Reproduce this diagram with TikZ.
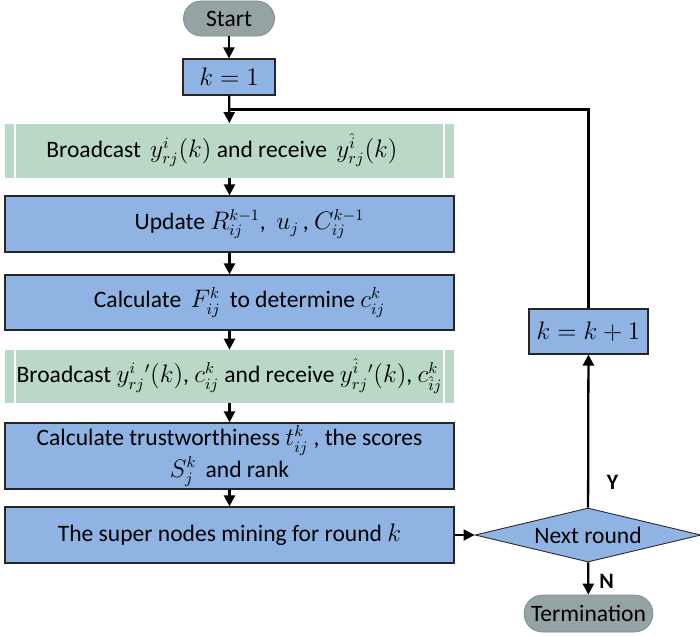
\documentclass[tikz,border=0pt]{standalone}
\usepackage[no-math]{fontspec}
\setmainfont{Carlito}
\usetikzlibrary{arrows.meta, positioning, shapes.geometric, calc}

\definecolor{boxblue}{HTML}{8FB4E3}
\definecolor{boxgreen}{HTML}{BAD8C6}
\definecolor{boxgray}{HTML}{95A3A4}

\tikzset{
  every node/.style={font=\fontsize{13.4}{16}\selectfont, inner sep=0pt},
  process/.style={draw=black!85, line width=0.7pt, fill=boxblue, minimum width=8.98cm, align=center},
  sendbox/.style={fill=boxgreen, minimum width=8.98cm, align=center,
    path picture={
      \draw[white, line width=0.8pt]
        ([xshift=0.2cm]path picture bounding box.north west) -- ([xshift=0.2cm]path picture bounding box.south west)
        ([xshift=-0.2cm]path picture bounding box.north east) -- ([xshift=-0.2cm]path picture bounding box.south east);
    }},
  terminal/.style={draw=boxgray!85!black, line width=0.4pt, fill=boxgray, rounded corners=0.35cm},
  arr/.style={-{Triangle[length=2.2mm,width=2.2mm]}, line width=1.3pt},
}

\begin{document}
\begin{tikzpicture}
  \useasboundingbox (0,0) rectangle (14,-12.7);

  % Left column
  \node[terminal, minimum width=1.82cm, minimum height=0.70cm] (start) at (4.58,-0.37) {Start};
  \node[process, minimum width=1.84cm, minimum height=0.72cm, font=\fontsize{15.5}{17}\selectfont] (k1) at (4.58,-1.54) {$k=1$};
  \node[sendbox, minimum height=1.08cm] (bc1) at (4.59,-3.01)
    {Broadcast\, $y^{i}_{rj}(k)$ and receive\, $y^{\hat{i}}_{rj}(k)$\hspace*{0.3cm}};
  \node[process, minimum height=1.12cm] (upd) at (4.59,-4.48)
    {\hspace*{0.8cm}Update $R^{k-1}_{ij}$,\ \ $u_j$\,, $C^{k-1}_{ij}$};
  \node[process, minimum height=1.10cm] (calcf) at (4.59,-6.05)
    {\hspace*{0.4cm}Calculate\, $F^{k}_{ij}$\, to determine $c^{k}_{ij}$};
  \node[sendbox, minimum height=1.06cm] (bc2) at (4.59,-7.53)
    {Broadcast $y^{i}_{rj}{}'(k)$, $c^{k}_{ij}$ and receive $y^{\hat{i}}_{rj}{}'(k)$, $c^{k}_{\hat{i}j}$};
  \node[process, minimum height=1.32cm] (trust) at (4.59,-9.12)
    {Calculate trustworthiness $t^{k}_{ij}$ , the scores\\ $S^{k}_{j}$\, and rank};
  \node[process, minimum height=1.12cm] (mine) at (4.59,-10.70)
    {The super nodes mining for round $k$};

  % Right column
  \node[process, minimum width=2.38cm, minimum height=0.90cm, font=\fontsize{15.5}{17}\selectfont] (inc) at (11.77,-6.63) {$k=k+1$};
  \node[diamond, draw=black!85, line width=0.5pt, fill=boxblue, aspect=4.2,
        minimum width=4.52cm, minimum height=1.08cm] (dec) at (11.76,-10.70) {Next round};
  \node[terminal, minimum width=2.58cm, minimum height=0.74cm, rounded corners=0.37cm] (term) at (11.77,-12.27) {Termination};

  % Arrows
  \foreach \a/\b in {start/k1, k1/bc1, bc1/upd, upd/calcf, calcf/bc2, bc2/trust, trust/mine}{
    \draw[arr] (\a) -- (\b);
  }
  \draw[arr] (mine) -- (dec);
  \draw[arr] (dec) -- (inc) node[pos=0.2, right=0.35cm, yshift=-0.1cm, font=\fontsize{12.5}{14}\selectfont\bfseries] (yes) {Y};
  \draw[arr] (dec) -- (term) node[midway, right=0.2cm, yshift=-0.05cm, font=\fontsize{12.5}{14}\selectfont\bfseries] (no) {N};

  % Loop back
  \coordinate (join) at ($(k1.south)!0.5!(bc1.north)$);
  \draw[line width=1.3pt] (inc.north) |- (join);
\end{tikzpicture}
\end{document}
